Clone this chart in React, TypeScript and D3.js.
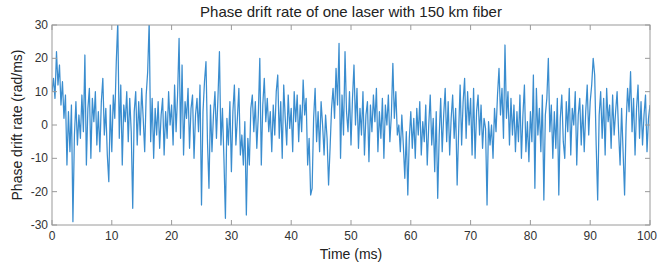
import { useEffect, useRef } from "react";
import { select, scaleLinear, line } from "d3";

// phase drift rate (rad/ms), one sample every 0.25 ms
const rate0_10 = [10, 14, 8, 22, 12, 18, 6, 13, 2, 9, -12, 4, -8, 6, -29, -3, 7, -6, 3, -4, 9, -2, 21, -12, 5, 11, -10, 8, 1, 10, -6, 4, -8, 7, 14, -3, 5, -9, -17, 6];
const rate10_20 = [-8, 9, 2, 19, 31, -4, 12, -12, 6, 1, 10, -5, 8, -2, -25, 4, 10, -6, 7, -3, 11, 2, -8, 9, 16, 31, -5, 8, -10, 5, -3, 7, -7, 3, 8, -9, 4, -4, 10, 0];
const rate20_30 = [6, -6, 12, -2, 9, 26, -4, 18, -9, 7, 2, 11, -7, 5, 9, -10, 3, 8, -2, 12, -24, 4, 13, 19, -5, -19, 6, -8, 3, 10, -4, 8, 22, -6, 5, -10, -28, 2, -6, 7];
const rate30_40 = [-14, 4, 12, -6, 2, 11, -9, -3, -12, 1, -27, -4, -12, 5, 9, -2, 7, -7, 3, 20, -12, 6, 14, 1, 8, -2, 4, -8, 6, -3, 10, 15, -4, 7, -10, 12, 2, -6, 9, -1];
const rate40_50 = [5, -8, 10, 1, 9, -5, 6, -2, 13.5, 3, 8, -12, -4, -21, -19, 2, 11, -5, 4, -8, 7, 0, -9, 3, -4, -18, -7, 5, 11, 2, 17, 6, 24.5, -10, 9, -3, 22, 4, -2, 10];
const rate50_60 = [-6, 8, 18, 0, 11, -7, 5, -3, 10, -9, 3, 7, -11, 6, -2, 9, 1, 11, -8, 4, -4, 8, -10, 6, 0, 9, -5, 3, 18.5, 2, 10, -3, 0, -8, 3, -6, -16, -2, -21, -4];
const rate60_70 = [4, -7, 2, -10, 5, -3, 7, -9, 1, -5, 6, -12, 0, 9, -6, 2, -14, 4, -22, -3, 8, -8, 3, 11, -5, 7, -9, 2, 9, -4, 5, -18, -2, 12, -6, 7, 14, -4, 10, 0];
const rate70_80 = [8, -9, 11, -10, 4, 9, -3, 6, -7, 2, -1, -24, 1, -6, 0, -10, 5, -2, 9, 17, 3, 11, -4, 24, 2, 10, -6, 8, -3, 6, -8, 4, -5, 9, -10, 3, 12, -8, 1, -11];
const rate80_90 = [4, -5, 15, -19, 11, -3, 5, -8, 9, -22.5, 3, 8, 20, -2, 6, -10, 4, -7, 8, -21, 2, 9, -5, -10, 7, -2, 11, -9, 5, 0, 10, -12, 3, 8, -6, 6, -8, 4, 12, -3];
const rate90_100 = [7, 12, 20, 15, -6, -22.5, 3, 10, -4, 8, -9, 11, 1, 6, -7, 9, -3, 4, 10, -2, -12, 5, -8, -21, 0, 11, 4, 16, -2, 8, -9, 5, 12, -4, 7, -6, 3, 9, -8, 2, 6];

const rates = [
  ...rate0_10, ...rate10_20, ...rate20_30, ...rate30_40, ...rate40_50,
  ...rate50_60, ...rate60_70, ...rate70_80, ...rate80_90, ...rate90_100,
];
const step = 0.25;
const xTicks = [0, 10, 20, 30, 40, 50, 60, 70, 80, 90, 100];
const yTicks = [-30, -20, -10, 0, 10, 20, 30];

const W = 658;
const H = 263;
const FONT = "'Liberation Sans', Arial, Helvetica, sans-serif";

const App = () => {
  const ref = useRef<HTMLDivElement>(null);

  useEffect(() => {
    if (!ref.current) return;
    ref.current.innerHTML = "";

    const left = 52, right = 650, top = 25, bottom = 225;

    const svg = select(ref.current)
      .append("svg")
      .attr("width", W)
      .attr("height", H)
      .style("display", "block")
      .style("font-family", FONT);

    svg.append("rect").attr("width", W).attr("height", H).attr("fill", "white");

    const x = scaleLinear().domain([0, 100]).range([left, right]);
    const y = scaleLinear().domain([-30, 30]).range([bottom, top]);

    svg
      .append("clipPath")
      .attr("id", "plot")
      .append("rect")
      .attr("x", left)
      .attr("y", top)
      .attr("width", right - left)
      .attr("height", bottom - top);

    const pts = rates.map((v, i) => ({ t: i * step, v }));
    const l = line<{ t: number; v: number }>()
      .x((d) => x(d.t))
      .y((d) => y(d.v));

    svg
      .append("path")
      .datum(pts)
      .attr("d", l)
      .attr("fill", "none")
      .attr("stroke", "#3a8dcf")
      .attr("stroke-width", 1.25)
      .attr("stroke-linejoin", "round")
      .attr("clip-path", "url(#plot)");

    // box + inward ticks, matlab style
    const axisColor = "#9a9a9a";
    svg
      .append("rect")
      .attr("x", left)
      .attr("y", top)
      .attr("width", right - left)
      .attr("height", bottom - top)
      .attr("fill", "none")
      .attr("stroke", axisColor)
      .attr("stroke-width", 1);

    const tl = 5;
    xTicks.forEach((t) => {
      svg.append("line").attr("x1", x(t)).attr("x2", x(t)).attr("y1", bottom).attr("y2", bottom - tl).attr("stroke", axisColor);
      svg.append("line").attr("x1", x(t)).attr("x2", x(t)).attr("y1", top).attr("y2", top + tl).attr("stroke", axisColor);
      // last label would spill past the page edge, so pull it in
      const last = t === 100;
      svg
        .append("text")
        .attr("x", last ? W - 1 : x(t))
        .attr("y", bottom + 15)
        .attr("text-anchor", last ? "end" : "middle")
        .attr("font-size", 12)
        .attr("fill", "#333")
        .text(t.toString());
    });

    yTicks.forEach((t) => {
      svg.append("line").attr("x1", left).attr("x2", left + tl).attr("y1", y(t)).attr("y2", y(t)).attr("stroke", axisColor);
      svg.append("line").attr("x1", right).attr("x2", right - tl).attr("y1", y(t)).attr("y2", y(t)).attr("stroke", axisColor);
      svg
        .append("text")
        .attr("x", left - 4)
        .attr("y", y(t) + 4)
        .attr("text-anchor", "end")
        .attr("font-size", 12)
        .attr("fill", "#333")
        .text(t.toString());
    });

    svg
      .append("text")
      .attr("x", (left + right) / 2)
      .attr("y", 17)
      .attr("text-anchor", "middle")
      .attr("font-size", 15)
      .attr("fill", "#222")
      .text("Phase drift rate of one laser with 150 km fiber");

    svg
      .append("text")
      .attr("x", (left + right) / 2)
      .attr("y", 259)
      .attr("text-anchor", "middle")
      .attr("font-size", 14)
      .attr("fill", "#222")
      .text("Time (ms)");

    svg
      .append("text")
      .attr("transform", `translate(22,${(top + bottom) / 2}) rotate(-90)`)
      .attr("text-anchor", "middle")
      .attr("font-size", 14)
      .attr("fill", "#222")
      .text("Phase drift rate (rad/ms)");
  }, []);

  return <div ref={ref} style={{ position: "absolute", left: 0, top: 0 }}></div>;
};

export default App;
